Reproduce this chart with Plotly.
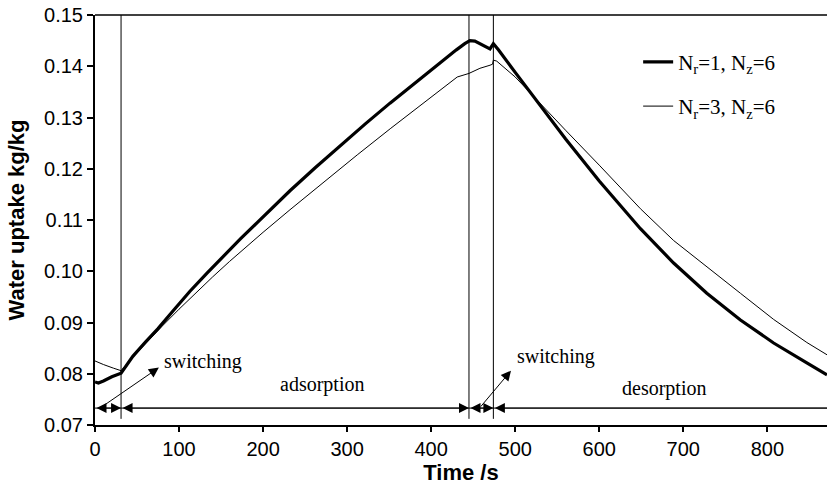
import plotly.graph_objects as go

# Water uptake during one adsorption/desorption cycle, two grid resolutions
time_nr1 = [0, 4, 10, 20, 31, 45, 60, 75, 93, 113, 133, 153, 173, 193, 213, 232,
            262, 292, 322, 351, 381, 411, 430, 440, 446, 452, 462, 470, 474, 480,
            500, 528, 560, 600, 649, 688.5, 728, 768, 807.5, 847, 871]
uptake_nr1 = [0.0784, 0.0782, 0.0786, 0.0794, 0.0801, 0.0834, 0.0862, 0.0888, 0.0923,
              0.0961, 0.0996, 0.1030, 0.1063, 0.1095, 0.1127, 0.1157, 0.1202, 0.1246,
              0.1288, 0.1328, 0.1368, 0.1407, 0.1432, 0.1444, 0.1450, 0.1449, 0.1441,
              0.1434, 0.1444, 0.1432, 0.1388, 0.1328, 0.1258, 0.1176, 0.1083, 0.1016,
              0.0957, 0.0905, 0.0860, 0.0821, 0.0798]

time_nr3 = [0, 5, 10, 21.8, 31, 45, 60, 80, 100, 120, 140, 160, 180, 200, 232, 272,
            312, 352, 392, 431, 445, 458, 470, 473, 474, 478, 500, 528, 560, 600, 649,
            688.5, 728, 768, 807.5, 847, 871]
uptake_nr3 = [0.0825, 0.0821, 0.0818, 0.0811, 0.0806, 0.0832, 0.0859, 0.0893, 0.0926,
              0.0958, 0.0989, 0.1019, 0.1048, 0.1076, 0.1120, 0.1174, 0.1227, 0.1279,
              0.1330, 0.1379, 0.1386, 0.1396, 0.1402, 0.1404, 0.1412, 0.1410, 0.1379,
              0.1330, 0.1275, 0.1207, 0.1122, 0.1060, 0.1008, 0.0957, 0.0906, 0.0861,
              0.0837]

series_names = ["N<sub>r</sub>=1, N<sub>z</sub>=6", "N<sub>r</sub>=3, N<sub>z</sub>=6"]

# Phase boundaries (s) and the labels of the phases
switch_times = [31, 445, 474]
t_end = 871
phase_bounds = [0, 31, 445, 474, 871]
phase_arrow_sides = ["end+start", "end+start", "end+start", "start"]
phase_line_y = 0.0733
phase_labels = ["switching", "adsorption", "switching", "desorption"]
phase_label_x = [129, 270, 548, 677]
phase_label_y = [0.0824, 0.0779, 0.0834, 0.0771]
# pointers from the short switching intervals to their labels: (tail, head)
pointers = [((6, 0.0733), (76, 0.0812)), ((457.5, 0.0733), (495, 0.0806))]

x_ticks = [0, 100, 200, 300, 400, 500, 600, 700, 800]
y_ticks = [0.07, 0.08, 0.09, 0.10, 0.11, 0.12, 0.13, 0.14, 0.15]

sans = "Arial, Liberation Sans, sans-serif"
serif = "Times New Roman, Liberation Serif, serif"

fig = go.Figure()
fig.add_trace(go.Scatter(x=time_nr1, y=uptake_nr1, mode="lines", name=series_names[0],
                         line=dict(color="black", width=3.2), legendgroup="a"))
fig.add_trace(go.Scatter(x=time_nr3, y=uptake_nr3, mode="lines", name=series_names[1],
                         line=dict(color="black", width=1), legendgroup="b"))

shapes = []
for t in switch_times:
    shapes.append(dict(type="line", xref="x", yref="y", x0=t, x1=t, y0=0.0712, y1=0.15,
                       line=dict(color="black", width=1)))
# top frame line
shapes.append(dict(type="line", xref="paper", yref="paper", x0=0, x1=1, y0=1, y1=1,
                   line=dict(color="black", width=1.3)))
# horizontal phase line
shapes.append(dict(type="line", xref="x", yref="y", x0=phase_bounds[0], x1=phase_bounds[-1],
                   y0=phase_line_y, y1=phase_line_y, line=dict(color="black", width=1)))

annotations = []
for i in range(len(phase_bounds) - 1):
    annotations.append(dict(x=phase_bounds[i + 1], y=phase_line_y, ax=phase_bounds[i],
                            ay=phase_line_y, xref="x", yref="y", axref="x", ayref="y",
                            text="", showarrow=True, arrowhead=2, startarrowhead=2,
                            arrowside=phase_arrow_sides[i], arrowsize=2.0,
                            startarrowsize=2.0, arrowwidth=1, arrowcolor="black"))
for (tx, ty), (hx, hy) in pointers:
    annotations.append(dict(x=hx, y=hy, ax=tx, ay=ty, xref="x", yref="y", axref="x",
                            ayref="y", text="", showarrow=True, arrowhead=2,
                            arrowsize=2.0, arrowwidth=1, arrowcolor="black"))
for lbl, lx, ly in zip(phase_labels, phase_label_x, phase_label_y):
    annotations.append(dict(x=lx, y=ly, xref="x", yref="y", text=lbl, showarrow=False,
                            font=dict(family=serif, size=20, color="black")))

fig.update_layout(
    width=827, height=496,
    margin=dict(l=95, r=0, t=15, b=71),
    paper_bgcolor="white", plot_bgcolor="white",
    showlegend=True,
    legend=dict(x=0.742, y=0.935, xanchor="left", yanchor="top",
                font=dict(family=serif, size=21, color="black"),
                bgcolor="rgba(0,0,0,0)", tracegroupgap=14),
    shapes=shapes, annotations=annotations,
    xaxis=dict(range=[0, t_end], tickvals=x_ticks, ticktext=[str(v) for v in x_ticks],
               showgrid=False, zeroline=False, showline=True, linecolor="black",
               linewidth=2, ticks="outside", ticklen=5, tickwidth=1.5, tickcolor="black",
               tickfont=dict(family=sans, size=20, color="black"),
               title=dict(text="<b>Time /s</b>", standoff=6,
                          font=dict(family=sans, size=22, color="black"))),
    yaxis=dict(range=[0.07, 0.15], tickvals=y_ticks, tickformat=".2f",
               showgrid=False, zeroline=False, showline=True, linecolor="black",
               linewidth=2, ticks="outside", ticklen=6, tickwidth=1.5, tickcolor="black",
               tickfont=dict(family=sans, size=20, color="black"),
               title=dict(text="<b>Water uptake kg/kg</b>", standoff=13,
                          font=dict(family=sans, size=22, color="black"))),
)

fig.write_html("out.html")
